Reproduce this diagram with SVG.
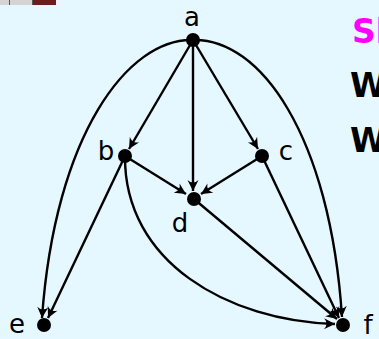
<svg xmlns="http://www.w3.org/2000/svg" width="379" height="339" viewBox="0 0 379 339">
<defs>
<style>
.edge{fill:none;stroke:#000;stroke-width:2.4;marker-end:url(#arr)}
.node{fill:#000}
.lbl{font-family:"DejaVu Sans",sans-serif;font-size:26px;fill:#000;text-anchor:middle}
.side{font-family:"DejaVu Sans",sans-serif;font-size:33px;font-weight:bold}
</style>
<marker id="arr" markerWidth="14" markerHeight="12" viewBox="-12 -6 14 12" refX="0" refY="0" orient="auto" markerUnits="userSpaceOnUse">
<path d="M0,0 L-11,-5.5 Q-6,0 -11,5.5 Z" fill="#000"/>
</marker>
</defs>
<rect width="379" height="339" fill="#e6f8ff"/>
<g id="toolbar">
<rect x="0" y="0" width="9" height="5" fill="#d4d4d4"/>
<rect x="9" y="0" width="1" height="5" fill="#555"/>
<rect x="10" y="0" width="22" height="5" fill="#d4d4d4"/>
<rect x="32" y="0" width="1" height="5" fill="#555"/>
<rect x="33" y="0" width="23" height="5" fill="#6b1c1c"/>
</g>
<g id="connectors">
<path class="edge" d="M193,40 L129,149"/>
<path class="edge" d="M193,40 L258,149"/>
<path class="edge" d="M193,40 L193,191"/>
<path class="edge" d="M125,156 L186,194"/>
<path class="edge" d="M262,156 L201,194"/>
<path class="edge" d="M194,199 L337,319"/>
<path class="edge" d="M262,156 L339,318"/>
<path class="edge" d="M125,156 L48,318"/>
<path class="edge" d="M125,156 C124,262 228,321 335,324"/>
<path class="edge" d="M193,40 C128,38 55,135 42,318"/>
<path class="edge" d="M193,40 C260,38 330,135 342,317"/>
</g>
<g id="node-a"><circle class="node" cx="193" cy="40" r="7"/><text class="lbl" x="192" y="26">a</text></g>
<g id="node-b"><circle class="node" cx="125" cy="156" r="7"/><text class="lbl" x="106" y="160">b</text></g>
<g id="node-c"><circle class="node" cx="262" cy="156" r="7"/><text class="lbl" x="286" y="160">c</text></g>
<g id="node-d"><circle class="node" cx="194" cy="199" r="7"/><text class="lbl" x="180" y="232">d</text></g>
<g id="node-e"><circle class="node" cx="44" cy="325" r="7"/><text class="lbl" x="17" y="333">e</text></g>
<g id="node-f"><circle class="node" cx="343" cy="325" r="7"/><text class="lbl" x="368" y="334">f</text></g>
<g id="side-text">
<text class="side" x="352" y="43" fill="#ff00ff">Sh</text>
<text class="side" x="350" y="97" fill="#000">W</text>
<text class="side" x="350" y="152" fill="#000">W</text>
</g>
</svg>
